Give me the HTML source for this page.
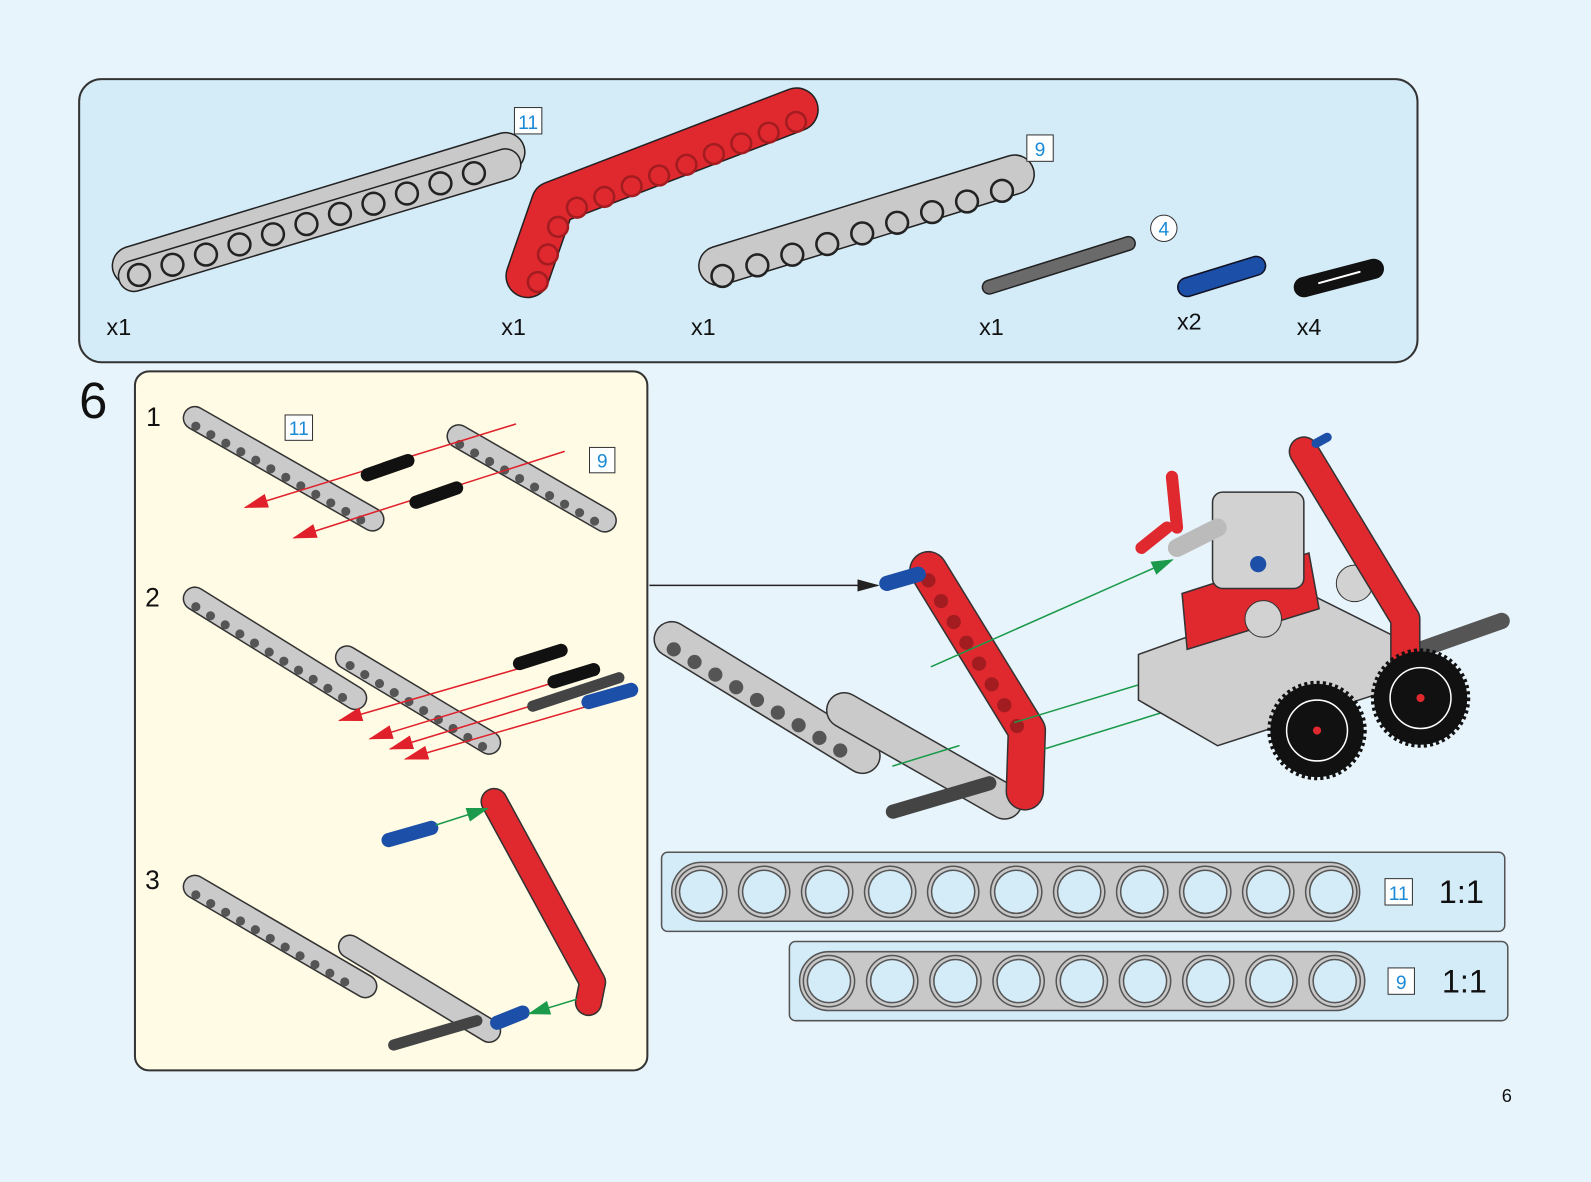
<!DOCTYPE html>
<html><head><meta charset="utf-8"><style>
html,body{margin:0;padding:0;background:#e8f4fb;}
svg{display:block}
text{font-family:"Liberation Sans",sans-serif}
</style></head><body>
<svg width="1591" height="1182" viewBox="0 0 1568 1165" preserveAspectRatio="none" xmlns="http://www.w3.org/2000/svg">
<defs>
<marker id="ag" markerWidth="22" markerHeight="14" refX="20" refY="7" orient="auto" markerUnits="userSpaceOnUse"><path d="M0,0 L22,7 L0,14z" fill="#1a9a4a"/></marker>
<marker id="ak" markerWidth="22" markerHeight="12" refX="20" refY="6" orient="auto" markerUnits="userSpaceOnUse"><path d="M0,0 L22,6 L0,12z" fill="#222"/></marker>
<marker id="ar2" markerWidth="24" markerHeight="14" refX="22" refY="7" orient="auto" markerUnits="userSpaceOnUse"><path d="M0,0 L24,7 L0,14z" fill="#e0202a"/></marker>
</defs>
<rect width="1568" height="1165" fill="#e8f4fb"/>

<!-- top parts panel -->
<rect x="78" y="78" width="1319" height="279" rx="22" fill="#d4ebf8" stroke="#333" stroke-width="2"/>
<g stroke-linecap="round" fill="none">
 <line x1="130" y1="262" x2="498" y2="150" stroke="#222" stroke-width="40"/>
 <line x1="130" y1="262" x2="498" y2="150" stroke="#c9c9c9" stroke-width="37"/>
 <line x1="132" y1="272" x2="498" y2="162" stroke="#222" stroke-width="32"/>
 <line x1="132" y1="272" x2="498" y2="162" stroke="#c9c9c9" stroke-width="29"/>
 <line x1="137" y1="271" x2="499" y2="161" stroke="#222" stroke-width="24" stroke-dasharray="0 34.5"/>
 <line x1="137" y1="271" x2="499" y2="161" stroke="#c9c9c9" stroke-width="19" stroke-dasharray="0 34.5"/>
 <polyline points="520,272 545,200 785,108" stroke="#222" stroke-width="44" stroke-linejoin="round"/>
 <polyline points="520,272 545,200 785,108" stroke="#e0282f" stroke-width="41" stroke-linejoin="round"/>
 <polyline points="530,278 555,210 785,120" stroke="#a31c20" stroke-width="22" stroke-dasharray="0 29" stroke-linejoin="round"/>
 <polyline points="530,278 555,210 785,120" stroke="#e0282f" stroke-width="17" stroke-dasharray="0 29" stroke-linejoin="round"/>
 <line x1="708" y1="262" x2="1000" y2="172" stroke="#222" stroke-width="40"/>
 <line x1="708" y1="262" x2="1000" y2="172" stroke="#c9c9c9" stroke-width="37"/>
 <line x1="712" y1="272" x2="1001" y2="184" stroke="#222" stroke-width="24" stroke-dasharray="0 36"/>
 <line x1="712" y1="272" x2="1001" y2="184" stroke="#c9c9c9" stroke-width="19" stroke-dasharray="0 36"/>
 <line x1="975" y1="283" x2="1112" y2="240" stroke="#222" stroke-width="15"/>
 <line x1="975" y1="283" x2="1112" y2="240" stroke="#6a6a6a" stroke-width="12"/>
 <line x1="1170" y1="283" x2="1238" y2="262" stroke="#112" stroke-width="20"/>
 <line x1="1170" y1="283" x2="1238" y2="262" stroke="#1c4fa8" stroke-width="17"/>
 <line x1="1285" y1="283" x2="1354" y2="265" stroke="#111" stroke-width="20"/>
 <line x1="1300" y1="279" x2="1340" y2="268" stroke="#fff" stroke-width="2"/>
</g>
<g font-size="23" fill="#111">
 <text x="105" y="330">x1</text><text x="494" y="330">x1</text><text x="681" y="330">x1</text>
 <text x="965" y="330">x1</text><text x="1160" y="325">x2</text><text x="1278" y="330">x4</text>
</g>
<rect x="507" y="106" width="27" height="26" fill="#fff" stroke="#333"/><text x="520.5" y="127" font-size="19" fill="#1a8ad8" text-anchor="middle">11</text>
<rect x="1012" y="133" width="26" height="26" fill="#fff" stroke="#333"/><text x="1025" y="154" font-size="19" fill="#1a8ad8" text-anchor="middle">9</text>
<circle cx="1147" cy="225" r="13" fill="#fff" stroke="#333"/><text x="1147" y="232" font-size="19" fill="#1a8ad8" text-anchor="middle">4</text>

<text x="78" y="412" font-size="50" fill="#111">6</text>

<rect x="133" y="366" width="505" height="689" rx="14" fill="#fffbe4" stroke="#333" stroke-width="2"/>
<g font-size="26" fill="#111"><text x="144" y="420">1</text><text x="143" y="598">2</text><text x="143" y="876">3</text></g>
<g stroke-linecap="round" fill="none">
 <line x1="192" y1="412" x2="367" y2="512" stroke="#333" stroke-width="24"/>
 <line x1="192" y1="412" x2="367" y2="512" stroke="#cacaca" stroke-width="21"/>
 <line x1="193" y1="420" x2="360" y2="515" stroke="#555" stroke-width="9" stroke-dasharray="0 17"/>
 <line x1="452" y1="430" x2="596" y2="513" stroke="#333" stroke-width="24"/>
 <line x1="452" y1="430" x2="596" y2="513" stroke="#cacaca" stroke-width="21"/>
 <line x1="453" y1="438" x2="590" y2="516" stroke="#555" stroke-width="9" stroke-dasharray="0 17"/>
 <line x1="508" y1="418" x2="242" y2="500" stroke="#e0202a" stroke-width="1.5" marker-end="url(#ar2)"/>
 <line x1="556" y1="445" x2="290" y2="530" stroke="#e0202a" stroke-width="1.5" marker-end="url(#ar2)"/>
 <line x1="362" y1="468" x2="402" y2="454" stroke="#111" stroke-width="13"/>
 <line x1="410" y1="495" x2="450" y2="481" stroke="#111" stroke-width="13"/>
 <line x1="192" y1="590" x2="350" y2="688" stroke="#333" stroke-width="24"/>
 <line x1="192" y1="590" x2="350" y2="688" stroke="#cacaca" stroke-width="21"/>
 <line x1="193" y1="598" x2="345" y2="692" stroke="#555" stroke-width="9" stroke-dasharray="0 17"/>
 <line x1="342" y1="648" x2="482" y2="732" stroke="#333" stroke-width="24"/>
 <line x1="342" y1="648" x2="482" y2="732" stroke="#cacaca" stroke-width="21"/>
 <line x1="345" y1="656" x2="476" y2="736" stroke="#555" stroke-width="9" stroke-dasharray="0 17"/>
 <line x1="525" y1="655" x2="335" y2="710" stroke="#e0202a" stroke-width="1.5" marker-end="url(#ar2)"/>
 <line x1="555" y1="670" x2="365" y2="728" stroke="#e0202a" stroke-width="1.5" marker-end="url(#ar2)"/>
 <line x1="575" y1="680" x2="385" y2="738" stroke="#e0202a" stroke-width="1.5" marker-end="url(#ar2)"/>
 <line x1="600" y1="690" x2="400" y2="748" stroke="#e0202a" stroke-width="1.5" marker-end="url(#ar2)"/>
 <line x1="512" y1="654" x2="553" y2="641" stroke="#111" stroke-width="13"/>
 <line x1="546" y1="672" x2="585" y2="660" stroke="#111" stroke-width="13"/>
 <line x1="525" y1="696" x2="610" y2="668" stroke="#444" stroke-width="11"/>
 <line x1="580" y1="692" x2="622" y2="680" stroke="#1c4fa8" stroke-width="14"/>
 <line x1="192" y1="874" x2="360" y2="972" stroke="#333" stroke-width="24"/>
 <line x1="192" y1="874" x2="360" y2="972" stroke="#cacaca" stroke-width="21"/>
 <line x1="193" y1="882" x2="352" y2="975" stroke="#555" stroke-width="9" stroke-dasharray="0 17"/>
 <line x1="345" y1="933" x2="482" y2="1016" stroke="#333" stroke-width="24"/>
 <line x1="345" y1="933" x2="482" y2="1016" stroke="#cacaca" stroke-width="21"/>
 <line x1="388" y1="1030" x2="470" y2="1006" stroke="#444" stroke-width="11"/>
 <line x1="490" y1="1008" x2="515" y2="998" stroke="#1c4fa8" stroke-width="14"/>
 <polyline points="487,790 584,968 580,988" stroke="#333" stroke-width="27" stroke-linejoin="round"/>
 <polyline points="487,790 584,968 580,988" stroke="#e0282f" stroke-width="24" stroke-linejoin="round"/>
 <line x1="383" y1="828" x2="425" y2="816" stroke="#1c4fa8" stroke-width="14"/>
 <line x1="430" y1="813" x2="480" y2="797" stroke="#1a9a4a" stroke-width="1.5" marker-end="url(#ag)"/>
 <line x1="568" y1="985" x2="522" y2="999" stroke="#1a9a4a" stroke-width="1.5" marker-end="url(#ag)"/>
</g>
<rect x="281" y="409" width="27" height="25" fill="#fff" stroke="#333"/><text x="294.5" y="429" font-size="19" fill="#1a8ad8" text-anchor="middle">11</text>
<rect x="581" y="441" width="25" height="25" fill="#fff" stroke="#333"/><text x="593.5" y="461" font-size="19" fill="#1a8ad8" text-anchor="middle">9</text>

<line x1="640" y1="577" x2="865" y2="577" stroke="#222" stroke-width="1.5" marker-end="url(#ak)"/>
<g stroke-linecap="round" fill="none">
 <line x1="662" y1="630" x2="850" y2="745" stroke="#333" stroke-width="36"/>
 <line x1="662" y1="630" x2="850" y2="745" stroke="#cacaca" stroke-width="33"/>
 <line x1="664" y1="640" x2="845" y2="750" stroke="#555" stroke-width="14" stroke-dasharray="0 24"/>
 <line x1="832" y1="700" x2="990" y2="790" stroke="#333" stroke-width="36"/>
 <line x1="832" y1="700" x2="990" y2="790" stroke="#cacaca" stroke-width="33"/>
 <line x1="880" y1="800" x2="975" y2="772" stroke="#444" stroke-width="14"/>
 <polyline points="915,562 1012,720 1010,780" stroke="#333" stroke-width="38" stroke-linejoin="round"/>
 <polyline points="915,562 1012,720 1010,780" stroke="#e0282f" stroke-width="35" stroke-linejoin="round"/>
 <polyline points="915,572 1005,720" stroke="#a31c20" stroke-width="14" stroke-dasharray="0 24"/>
 <line x1="874" y1="575" x2="905" y2="566" stroke="#1c4fa8" stroke-width="15"/>
 <line x1="918" y1="657" x2="1155" y2="552" stroke="#1a9a4a" stroke-width="1.5" marker-end="url(#ag)"/>
 <line x1="1000" y1="712" x2="1145" y2="668" stroke="#1a9a4a" stroke-width="1.5" marker-end="url(#ag)"/>
 <line x1="1030" y1="738" x2="1185" y2="690" stroke="#1a9a4a" stroke-width="1.5" marker-end="url(#ag)"/>
 <line x1="880" y1="755" x2="945" y2="735" stroke="#1a9a4a" stroke-width="1.5"/>
 <line x1="1330" y1="665" x2="1480" y2="612" stroke="#555" stroke-width="16"/>
 <line x1="1245" y1="700" x2="1350" y2="665" stroke="#666" stroke-width="18"/>
</g>
<path d="M1122,645 L1290,585 L1380,630 L1370,680 L1200,735 L1122,690Z" fill="#cfcfcf" stroke="#333" stroke-width="1.5"/>
<path d="M1165,585 L1290,545 L1300,600 L1170,640Z" fill="#e0282f" stroke="#333" stroke-width="1.5"/>
<rect x="1195" y="485" width="90" height="95" rx="10" fill="#d2d2d2" stroke="#333" stroke-width="1.5"/>
<circle cx="1245" cy="610" r="18" fill="#d2d2d2" stroke="#333"/>
<circle cx="1335" cy="575" r="18" fill="#d2d2d2" stroke="#333"/>
<circle cx="1240" cy="556" r="8" fill="#1c4fa8"/>
<line x1="1160" y1="540" x2="1200" y2="520" stroke="#bbb" stroke-width="18" stroke-linecap="round"/>
<line x1="1155" y1="470" x2="1160" y2="520" stroke="#e0282f" stroke-width="12" stroke-linecap="round"/>
<line x1="1125" y1="540" x2="1150" y2="520" stroke="#e0282f" stroke-width="12" stroke-linecap="round"/>
<polyline points="1285,445 1385,610 1385,660" fill="none" stroke="#333" stroke-width="30" stroke-linejoin="round" stroke-linecap="round"/>
<polyline points="1285,445 1385,610 1385,660" fill="none" stroke="#e0282f" stroke-width="27" stroke-linejoin="round" stroke-linecap="round"/>
<line x1="1297" y1="437" x2="1308" y2="431" stroke="#1c4fa8" stroke-width="9" stroke-linecap="round"/>
<circle cx="1298" cy="720" r="46" fill="#111" stroke="#111" stroke-width="6" stroke-dasharray="3 3"/>
<circle cx="1298" cy="720" r="30" fill="none" stroke="#fff" stroke-width="1.5"/>
<circle cx="1400" cy="688" r="46" fill="#111" stroke="#111" stroke-width="6" stroke-dasharray="3 3"/>
<circle cx="1400" cy="688" r="30" fill="none" stroke="#fff" stroke-width="1.5"/>
<circle cx="1298" cy="720" r="4" fill="#e0282f"/><circle cx="1400" cy="688" r="4" fill="#e0282f"/>

<rect x="652" y="840" width="831" height="78" rx="6" fill="#d4ebf8" stroke="#555" stroke-width="1.5"/>
<rect x="662" y="850" width="678" height="58" rx="29" fill="#c8c8c8" stroke="#555" stroke-width="1.5"/>
<g fill="none" stroke-linecap="round">
 <line x1="691" y1="879" x2="1313" y2="879" stroke="#555" stroke-width="52" stroke-dasharray="0 62.1"/>
 <line x1="691" y1="879" x2="1313" y2="879" stroke="#c8c8c8" stroke-width="49" stroke-dasharray="0 62.1"/>
 <line x1="691" y1="879" x2="1313" y2="879" stroke="#555" stroke-width="44" stroke-dasharray="0 62.1"/>
 <line x1="691" y1="879" x2="1313" y2="879" stroke="#d4ebf8" stroke-width="41" stroke-dasharray="0 62.1"/>
</g>
<rect x="778" y="928" width="708" height="78" rx="6" fill="#d4ebf8" stroke="#555" stroke-width="1.5"/>
<rect x="788" y="938" width="557" height="58" rx="29" fill="#c8c8c8" stroke="#555" stroke-width="1.5"/>
<g fill="none" stroke-linecap="round">
 <line x1="817" y1="967" x2="1318" y2="967" stroke="#555" stroke-width="52" stroke-dasharray="0 62.3"/>
 <line x1="817" y1="967" x2="1318" y2="967" stroke="#c8c8c8" stroke-width="49" stroke-dasharray="0 62.3"/>
 <line x1="817" y1="967" x2="1318" y2="967" stroke="#555" stroke-width="44" stroke-dasharray="0 62.3"/>
 <line x1="817" y1="967" x2="1318" y2="967" stroke="#d4ebf8" stroke-width="41" stroke-dasharray="0 62.3"/>
</g>
<rect x="1365" y="866" width="27" height="26" fill="#fff" stroke="#333"/><text x="1378.5" y="887" font-size="19" fill="#1a8ad8" text-anchor="middle">11</text>
<text x="1418" y="890" font-size="32" fill="#111">1:1</text>
<rect x="1368" y="954" width="26" height="26" fill="#fff" stroke="#333"/><text x="1381" y="975" font-size="19" fill="#1a8ad8" text-anchor="middle">9</text>
<text x="1421" y="978" font-size="32" fill="#111">1:1</text>

<text x="1480" y="1086" font-size="18" fill="#111">6</text>
</svg>
</body></html>
